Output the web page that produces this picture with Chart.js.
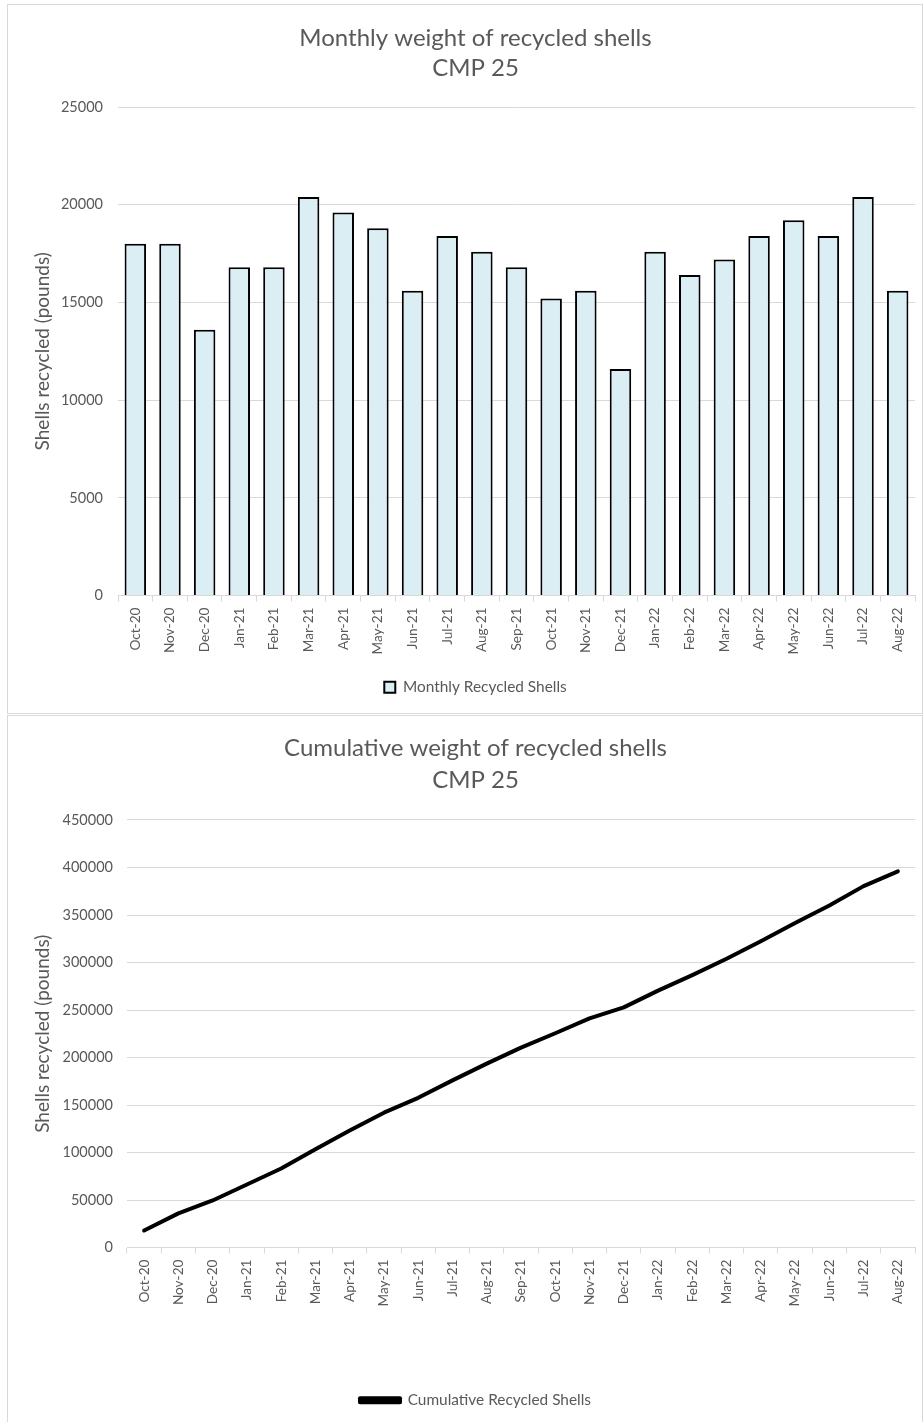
<!DOCTYPE html>
<html>
<head>
<meta charset="utf-8">
<script src="https://cdn.jsdelivr.net/npm/chart.js@4.4.1/dist/chart.umd.min.js"></script>
<style>
  html, body { margin: 0; padding: 0; background: #ffffff; }
  body { width: 924px; height: 1422px; position: relative; overflow: hidden; }
  .box { position: absolute; box-sizing: border-box; border: 1px solid #d9d9d9; background: #fff; }
  #box1 { left: 7px; top: 4px; width: 916px; height: 710px; }
  #box2 { left: 7px; top: 715px; width: 916px; height: 710px; }
  canvas { display: block; }
</style>
</head>
<body>
<div class="box" id="box1"><canvas id="c1" width="914" height="708"></canvas></div>
<div class="box" id="box2"><canvas id="c2" width="914" height="708"></canvas></div>
<script>
// ---- data ----
const months = ["Oct-20","Nov-20","Dec-20","Jan-21","Feb-21","Mar-21","Apr-21","May-21","Jun-21","Jul-21","Aug-21","Sep-21","Oct-21","Nov-21","Dec-21","Jan-22","Feb-22","Mar-22","Apr-22","May-22","Jun-22","Jul-22","Aug-22"];
const monthlyShells = [18000,18000,13600,16800,16800,20400,19600,18800,15600,18400,17600,16800,15200,15600,11600,17600,16400,17200,18400,19200,18400,20400,15600];
const cumulativeShells = [18000,36000,49600,66400,83200,103600,123200,142000,157600,176000,193600,210400,225600,241200,252800,270400,286800,304000,322400,341600,360000,380400,396000];
const monthlyTitle = ["Monthly weight of recycled shells", "CMP 25"];
const cumulativeTitle = ["Cumulative weight of recycled shells", "CMP 25"];
const yAxisTitle = "Shells recycled (pounds)";
const monthlyLabel = "Monthly Recycled Shells";
const cumulativeLabel = "Cumulative Recycled Shells";

const FONT = "Lato, 'Open Sans', sans-serif";
const GREY = "#595959";
const GRID = "#d9d9d9";
const SHIFT = 28;
Chart.defaults.font.family = FONT;
Chart.defaults.color = GREY;

function commonOptions(opts) {
  return {
    responsive: false,
    animation: false,
    devicePixelRatio: 1,
    layout: { padding: { left: SHIFT, right: 7, top: 0, bottom: opts.padBottom } },
    plugins: {
      title: {
        display: true,
        text: opts.title,
        color: GREY,
        font: { family: FONT, size: 24, weight: 'normal', lineHeight: opts.titleLH },
        padding: { top: opts.titleTop, bottom: opts.titleBottom }
      },
      legend: {
        position: 'bottom',
        labels: {
          color: GREY,
          font: { family: FONT, size: 15.4 },
          boxWidth: opts.boxW,
          boxHeight: opts.boxH,
          padding: 10
        }
      },
      tooltip: { enabled: false }
    },
    scales: {
      x: {
        offset: true,
        grid: { display: true, drawOnChartArea: false, drawTicks: true, tickLength: 6, color: GRID, offset: true },
        border: { display: true, color: GRID, width: 1 },
        ticks: { color: GREY, font: { family: FONT, size: 13.6 }, minRotation: 90, maxRotation: 90, padding: 6, autoSkip: false },
        afterFit: (s) => { s.height = opts.xHeight; }
      },
      y: {
        min: 0,
        max: opts.yMax,
        grid: { color: GRID, drawTicks: false, lineWidth: 1 },
        border: { display: false },
        ticks: { stepSize: opts.yStep, color: GREY, font: { family: FONT, size: 14.5 }, padding: opts.tickPad, format: { useGrouping: false } },
        title: { display: true, text: yAxisTitle, color: GREY, font: { family: FONT, size: 19 }, padding: { top: 23 - SHIFT, bottom: 0 } },
        afterFit: (s) => { s.width = opts.yWidth - SHIFT; }
      }
    }
  };
}

new Chart(document.getElementById('c1'), {
  type: 'bar',
  data: {
    labels: months,
    datasets: [{
      label: monthlyLabel,
      data: monthlyShells,
      backgroundColor: '#DAEEF3',
      borderColor: '#000000',
      borderWidth: 2,
      barPercentage: 0.62,
      categoryPercentage: 1.0
    }]
  },
  options: commonOptions({ title: monthlyTitle, titleLH: 1.25, titleTop: 18, titleBottom: 24, yMax: 25000, yStep: 5000, yWidth: 110, tickPad: 15, xHeight: 74, padBottom: 8, boxW: 11, boxH: 11 })
});

new Chart(document.getElementById('c2'), {
  type: 'line',
  data: {
    labels: months,
    datasets: [{
      label: cumulativeLabel,
      data: cumulativeShells,
      borderColor: '#000000',
      backgroundColor: '#000000',
      borderWidth: 4,
      pointRadius: 0,
      tension: 0,
      fill: false,
      borderJoinStyle: 'round',
      borderCapStyle: 'round'
    }]
  },
  options: commonOptions({ title: cumulativeTitle, titleLH: 1.333, titleTop: 16, titleBottom: 24, yMax: 450000, yStep: 50000, yWidth: 119, tickPad: 14, xHeight: 135, padBottom: 6, boxW: 40, boxH: 4 })
});
</script>
</body>
</html>
